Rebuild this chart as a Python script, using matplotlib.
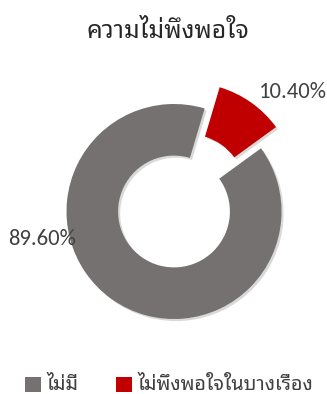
import matplotlib
matplotlib.use("Agg")
import matplotlib.pyplot as plt
from matplotlib import font_manager
import matplotlib.patheffects as pe
from matplotlib.patches import Rectangle


def first_installed(names, fallback):
    installed = {f.name for f in font_manager.fontManager.ttflist}
    for n in names:
        if n in installed:
            return n
    return fallback


thai_font = first_installed(["Noto Sans Thai Looped", "Sarabun", "Loma",
                             "Noto Sans Thai"], "DejaVu Sans")
num_font = first_installed(["Carlito", "Open Sans"], "DejaVu Sans")
plt.rcParams["font.family"] = [thai_font, "DejaVu Sans"]

title = "ความไม่พึงพอใจ"
categories = ["ไม่มี", "ไม่พึงพอใจในบางเรื่อง"]
values = [89.6, 10.4]
value_labels = ["89.60%", "10.40%"]
colors = ["#767171", "#C00000"]

W, H = 327, 394
fig = plt.figure(figsize=(W / 100, H / 100), dpi=100)
ax = fig.add_axes([0.0, 0.0, 1.0, 1.0])
ax.axis("off")

# donut in pixel-like data units, red slice pulled out
cx, cy, R = 174, H - 211.5, 107.5
wedges, _ = ax.pie(values, colors=colors, explode=[0, 26], startangle=36,
                   counterclock=False, radius=R, center=(cx, cy),
                   wedgeprops=dict(width=R * 0.48, linewidth=0))
for w in wedges:
    w.set_path_effects([pe.SimplePatchShadow(offset=(1.5, -1.5), alpha=0.22,
                                             shadow_rgbFace="#555555"),
                        pe.Normal()])
ax.set_xlim(0, W)
ax.set_ylim(0, H)
ax.set_aspect("equal")

ax.text(292.5, H - 97.5, value_labels[1], ha="center", va="baseline",
        fontsize=16.3, color="#404040", family=num_font)
ax.text(42.5, H - 245, value_labels[0], ha="center", va="baseline",
        fontsize=16.3, color="#404040", family=num_font)

ax.text(167.5, H - 38, title, ha="center", va="baseline", fontsize=17.8,
        fontweight="bold", color="#262626")

# legend
base = H - 390
for x0, tx, col, lab in [(25, 47, colors[0], categories[0]),
                         (116, 138, colors[1], categories[1])]:
    ax.add_patch(Rectangle((x0, H - 392), 16, 15, color=col, lw=0))
    ax.text(tx, base, lab, ha="left", va="baseline", fontsize=14.2,
            color="#404040")

fig.savefig("out.png", dpi=100)
